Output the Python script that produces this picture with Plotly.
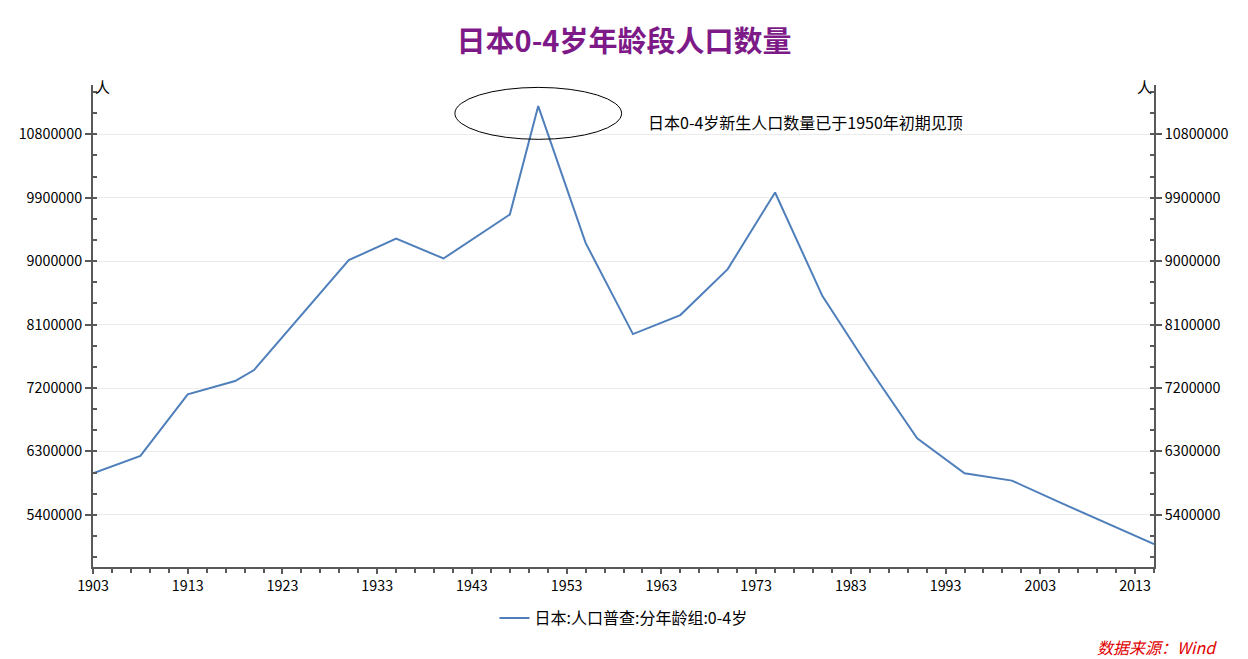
import plotly.graph_objects as go

# ---- data ----
years = [1903, 1908, 1913, 1918, 1920, 1925, 1930, 1935, 1940, 1947, 1950, 1955,
         1960, 1965, 1970, 1975, 1980, 1985, 1990, 1995, 2000, 2005, 2010, 2015]
pop_0_4 = [5990000, 6236000, 7111000, 7299000, 7455000, 8230000, 9014000, 9322000,
           9038000, 9662000, 11201000, 9259000, 7965000, 8235000, 8887000, 9974000,
           8504000, 7470000, 6487000, 5991000, 5886000, 5580000, 5282000, 4985000]
y_ticks = [5400000, 6300000, 7200000, 8100000, 9000000, 9900000, 10800000]
title_text = "日本0-4岁年龄段人口数量"
series_name = "日本:人口普查:分年龄组:0-4岁"
note_text = "日本0-4岁新生人口数量已于1950年初期见顶"
source_text = "数据来源：Wind"
unit_text = "人"

FONT = "Noto Sans CJK SC, Microsoft YaHei, sans-serif"
AX = "#595959"
LINE = "#4f7fbb"

fig = go.Figure()
fig.add_trace(go.Scatter(x=years, y=pop_0_4, mode="lines", name=series_name,
                         line=dict(color=LINE, width=2)))
# invisible trace to carry the right axis
fig.add_trace(go.Scatter(x=years, y=pop_0_4, mode="lines", yaxis="y2",
                         line=dict(color="rgba(0,0,0,0)", width=0),
                         showlegend=False, hoverinfo="skip"))

yrange = [4660000, 11500000]
yax_common = dict(
    range=yrange, tickmode="array", tickvals=y_ticks,
    ticktext=[str(v) for v in y_ticks],
    showline=True, linecolor=AX, linewidth=2,
    ticks="outside", ticklen=6, tickwidth=2, tickcolor=AX,
    minor=dict(ticks="inside", ticklen=4, tickwidth=2, tickcolor=AX,
               dtick=300000, tick0=5400000, showgrid=False),
    tickfont=dict(size=14.3, color="#000000", family=FONT),
    zeroline=False,
)

fig.update_layout(
    width=1248, height=659,
    paper_bgcolor="white", plot_bgcolor="white",
    margin=dict(l=93, r=94, t=85, b=92),
    font=dict(family=FONT, color="#000000"),
    title=dict(text="<b>" + title_text + "</b>", x=0.5, xanchor="center",
               y=1 - 42 / 659, yanchor="middle", yref="container",
               font=dict(size=29, color="#7d1a88", family=FONT)),
    xaxis=dict(range=[1903, 2015], tick0=1903, dtick=10,
               showline=True, linecolor=AX, linewidth=2,
               ticks="outside", ticklen=5, tickwidth=2, tickcolor=AX,
               minor=dict(ticks="outside", ticklen=4, tickwidth=2, tickcolor=AX,
                          dtick=2, tick0=1903, showgrid=False),
               showgrid=False, zeroline=False,
               tickfont=dict(size=14.3, color="#000000", family=FONT)),
    yaxis=dict(side="left", showgrid=True, gridcolor="#ebebeb", gridwidth=1,
               **yax_common),
    yaxis2=dict(side="right", overlaying="y", matches="y", showgrid=False,
                **yax_common),
    showlegend=True,
    legend=dict(orientation="h", x=0.5, xanchor="center",
                y=(567 - 618) / 482, yanchor="middle",
                font=dict(size=16, color="#000000", family=FONT),
                bgcolor="rgba(0,0,0,0)"),
)

# ellipse around the 1950 peak
fig.add_shape(type="circle", xref="x", yref="y",
              x0=1941.2, x1=1958.8, y0=10729000, y1=11466000,
              line=dict(color="#000000", width=1))

fig.add_annotation(text=note_text, xref="x", yref="y", x=1961.4, y=10970000,
                   xanchor="left", yanchor="middle", showarrow=False,
                   font=dict(size=16, color="#000000", family=FONT))

fig.add_annotation(text=unit_text, xref="paper", yref="paper", x=0, y=(567 - 86) / 482,
                   xanchor="left", yanchor="middle", showarrow=False,
                   font=dict(size=15, color="#000000", family=FONT))
fig.add_annotation(text=unit_text, xref="paper", yref="paper", x=1, y=(567 - 86) / 482,
                   xanchor="right", yanchor="middle", showarrow=False,
                   font=dict(size=15, color="#000000", family=FONT))

fig.add_annotation(text="<i>" + source_text + "</i>", xref="paper", yref="paper",
                   x=(1219 - 93) / 1061, y=(567 - 647) / 482,
                   xanchor="right", yanchor="middle", showarrow=False,
                   font=dict(size=16, color="#e00000", family=FONT))

fig.write_html("out.html")
